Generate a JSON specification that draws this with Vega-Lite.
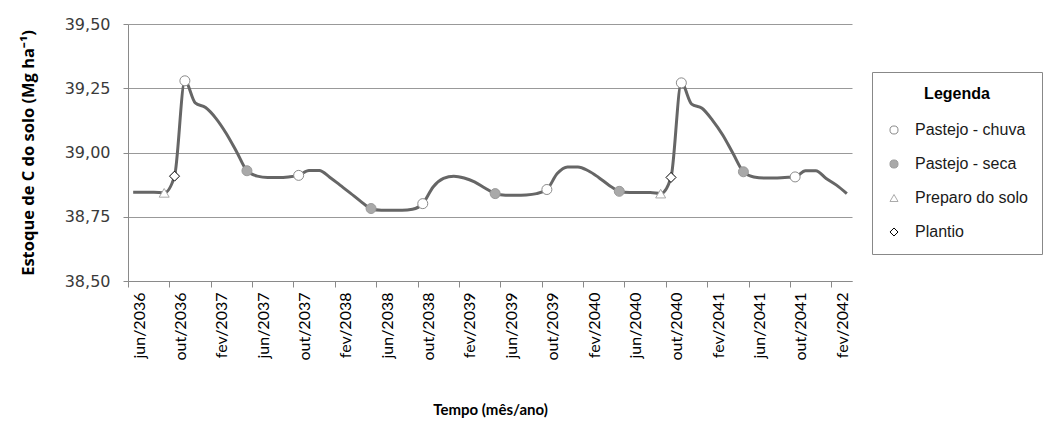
{
  "$schema": "https://vega.github.io/schema/vega-lite/v6.json",
  "width": 724,
  "height": 257,
  "autosize": {"type": "none"},
  "padding": {"left": 128, "top": 24, "right": 196, "bottom": 151},
  "background": "white",
  "config": {
    "view": {"stroke": null},
    "axis": {"domainColor": "#8a8a8a", "tickColor": "#8a8a8a", "gridColor": "#999999", "domainWidth": 1, "tickWidth": 1, "gridWidth": 1}
  },
  "data": {
    "values": [
      {"i": 0, "mes": "jun/2036", "c": 38.845, "evento": null},
      {"i": 1, "mes": "jul/2036", "c": 38.845, "evento": null},
      {"i": 2, "mes": "ago/2036", "c": 38.845, "evento": null},
      {"i": 3, "mes": "set/2036", "c": 38.843, "evento": "Preparo do solo"},
      {"i": 4, "mes": "out/2036", "c": 38.908, "evento": "Plantio"},
      {"i": 5, "mes": "nov/2036", "c": 39.279, "evento": "Pastejo - chuva"},
      {"i": 6, "mes": "dez/2036", "c": 39.193, "evento": null},
      {"i": 7, "mes": "jan/2037", "c": 39.175, "evento": null},
      {"i": 8, "mes": "fev/2037", "c": 39.133, "evento": null},
      {"i": 9, "mes": "mar/2037", "c": 39.074, "evento": null},
      {"i": 10, "mes": "abr/2037", "c": 39.003, "evento": null},
      {"i": 11, "mes": "mai/2037", "c": 38.929, "evento": "Pastejo - seca"},
      {"i": 12, "mes": "jun/2037", "c": 38.908, "evento": null},
      {"i": 13, "mes": "jul/2037", "c": 38.903, "evento": null},
      {"i": 14, "mes": "ago/2037", "c": 38.903, "evento": null},
      {"i": 15, "mes": "set/2037", "c": 38.905, "evento": null},
      {"i": 16, "mes": "out/2037", "c": 38.911, "evento": "Pastejo - chuva"},
      {"i": 17, "mes": "nov/2037", "c": 38.930, "evento": null},
      {"i": 18, "mes": "dez/2037", "c": 38.930, "evento": null},
      {"i": 19, "mes": "jan/2038", "c": 38.904, "evento": null},
      {"i": 20, "mes": "fev/2038", "c": 38.873, "evento": null},
      {"i": 21, "mes": "mar/2038", "c": 38.842, "evento": null},
      {"i": 22, "mes": "abr/2038", "c": 38.810, "evento": null},
      {"i": 23, "mes": "mai/2038", "c": 38.782, "evento": "Pastejo - seca"},
      {"i": 24, "mes": "jun/2038", "c": 38.775, "evento": null},
      {"i": 25, "mes": "jul/2038", "c": 38.775, "evento": null},
      {"i": 26, "mes": "ago/2038", "c": 38.775, "evento": null},
      {"i": 27, "mes": "set/2038", "c": 38.779, "evento": null},
      {"i": 28, "mes": "out/2038", "c": 38.801, "evento": "Pastejo - chuva"},
      {"i": 29, "mes": "nov/2038", "c": 38.866, "evento": null},
      {"i": 30, "mes": "dez/2038", "c": 38.899, "evento": null},
      {"i": 31, "mes": "jan/2039", "c": 38.908, "evento": null},
      {"i": 32, "mes": "fev/2039", "c": 38.901, "evento": null},
      {"i": 33, "mes": "mar/2039", "c": 38.886, "evento": null},
      {"i": 34, "mes": "abr/2039", "c": 38.862, "evento": null},
      {"i": 35, "mes": "mai/2039", "c": 38.840, "evento": "Pastejo - seca"},
      {"i": 36, "mes": "jun/2039", "c": 38.834, "evento": null},
      {"i": 37, "mes": "jul/2039", "c": 38.834, "evento": null},
      {"i": 38, "mes": "ago/2039", "c": 38.835, "evento": null},
      {"i": 39, "mes": "set/2039", "c": 38.840, "evento": null},
      {"i": 40, "mes": "out/2039", "c": 38.856, "evento": "Pastejo - chuva"},
      {"i": 41, "mes": "nov/2039", "c": 38.918, "evento": null},
      {"i": 42, "mes": "dez/2039", "c": 38.944, "evento": null},
      {"i": 43, "mes": "jan/2040", "c": 38.944, "evento": null},
      {"i": 44, "mes": "fev/2040", "c": 38.929, "evento": null},
      {"i": 45, "mes": "mar/2040", "c": 38.903, "evento": null},
      {"i": 46, "mes": "abr/2040", "c": 38.873, "evento": null},
      {"i": 47, "mes": "mai/2040", "c": 38.849, "evento": "Pastejo - seca"},
      {"i": 48, "mes": "jun/2040", "c": 38.844, "evento": null},
      {"i": 49, "mes": "jul/2040", "c": 38.844, "evento": null},
      {"i": 50, "mes": "ago/2040", "c": 38.844, "evento": null},
      {"i": 51, "mes": "set/2040", "c": 38.840, "evento": "Preparo do solo"},
      {"i": 52, "mes": "out/2040", "c": 38.903, "evento": "Plantio"},
      {"i": 53, "mes": "nov/2040", "c": 39.271, "evento": "Pastejo - chuva"},
      {"i": 54, "mes": "dez/2040", "c": 39.188, "evento": null},
      {"i": 55, "mes": "jan/2041", "c": 39.172, "evento": null},
      {"i": 56, "mes": "fev/2041", "c": 39.126, "evento": null},
      {"i": 57, "mes": "mar/2041", "c": 39.068, "evento": null},
      {"i": 58, "mes": "abr/2041", "c": 38.996, "evento": null},
      {"i": 59, "mes": "mai/2041", "c": 38.925, "evento": "Pastejo - seca"},
      {"i": 60, "mes": "jun/2041", "c": 38.905, "evento": null},
      {"i": 61, "mes": "jul/2041", "c": 38.901, "evento": null},
      {"i": 62, "mes": "ago/2041", "c": 38.901, "evento": null},
      {"i": 63, "mes": "set/2041", "c": 38.903, "evento": null},
      {"i": 64, "mes": "out/2041", "c": 38.905, "evento": "Pastejo - chuva"},
      {"i": 65, "mes": "nov/2041", "c": 38.929, "evento": null},
      {"i": 66, "mes": "dez/2041", "c": 38.929, "evento": null},
      {"i": 67, "mes": "jan/2042", "c": 38.899, "evento": null},
      {"i": 68, "mes": "fev/2042", "c": 38.873, "evento": null},
      {"i": 69, "mes": "mar/2042", "c": 38.840, "evento": null}
    ]
  },
  "layer": [
    {
      "mark": {"type": "line", "interpolate": "monotone", "color": "#666666", "strokeWidth": 3},
      "encoding": {
        "x": {
          "field": "i", "type": "quantitative",
          "scale": {"domain": [-0.5, 69.5], "nice": false, "zero": false},
          "axis": {
            "values": [-0.5, 3.5, 7.5, 11.5, 15.5, 19.5, 23.5, 27.5, 31.5, 35.5, 39.5, 43.5, 47.5, 51.5, 55.5, 59.5, 63.5, 67.5],
            "labelExpr": "['jun/2036','out/2036','fev/2037','jun/2037','out/2037','fev/2038','jun/2038','out/2038','fev/2039','jun/2039','out/2039','fev/2040','jun/2040','out/2040','fev/2041','jun/2041','out/2041','fev/2042'][round((datum.value + 0.5) / 4)]",
            "labelAngle": 270, "labelAlign": "right", "labelBaseline": "middle",
            "labelOffset": 11, "labelPadding": 5, "labelFlush": false, "labelOverlap": false,
            "labelFont": "Lato", "labelFontSize": 16, "labelColor": "#000000",
            "tickSize": 6, "grid": false,
            "title": "Tempo (mês/ano)", "titleFont": "Lato", "titleFontSize": 15, "titleFontWeight": "bold", "titleColor": "#000000", "titlePadding": 42
          }
        },
        "y": {
          "field": "c", "type": "quantitative",
          "scale": {"domain": [38.5, 39.5], "nice": false, "zero": false},
          "axis": {
            "values": [38.5, 38.75, 39, 39.25, 39.5],
            "labelExpr": "replace(format(datum.value, '.2f'), '.', ',')",
            "labelFont": "DejaVu Sans", "labelFontSize": 16, "labelColor": "#3a3a3a",
            "labelPadding": 13, "labelFlush": false, "tickSize": 5, "grid": true,
            "title": "Estoque de C do solo (Mg ha⁻¹)", "titleFont": "Open Sans", "titleFontSize": 16.5, "titleFontWeight": "bold", "titleColor": "#000000", "titlePadding": 28
          }
        }
      }
    },
    {
      "transform": [{"filter": "isValid(datum.evento)"}],
      "mark": {"type": "point", "filled": true, "opacity": 1, "size": 100},
      "encoding": {
        "x": {"field": "i", "type": "quantitative"},
        "y": {"field": "c", "type": "quantitative"},
        "shape": {
          "field": "evento", "type": "nominal",
          "scale": {"domain": ["Pastejo - chuva", "Pastejo - seca", "Preparo do solo", "Plantio"], "range": ["circle", "circle", "triangle-up", "diamond"]},
          "legend": {
            "title": "Legenda", "orient": "none", "legendX": 744, "legendY": 48,
            "strokeColor": "#888888", "fillColor": "white", "padding": 14,
            "titleAnchor": "middle", "titleFont": "Liberation Sans", "titleFontSize": 16, "titleFontWeight": "bold", "titleColor": "#000000", "titlePadding": 20,
            "labelFont": "Liberation Sans", "labelFontSize": 16, "labelColor": "#1a1a1a", "labelOffset": 13,
            "rowPadding": 18, "symbolSize": 65
          }
        },
        "fill": {
          "field": "evento", "type": "nominal",
          "scale": {"domain": ["Pastejo - chuva", "Pastejo - seca", "Preparo do solo", "Plantio"], "range": ["#ffffff", "#a9a9a9", "#ffffff", "#ffffff"]}
        },
        "stroke": {
          "field": "evento", "type": "nominal",
          "scale": {"domain": ["Pastejo - chuva", "Pastejo - seca", "Preparo do solo", "Plantio"], "range": ["#8a8a8a", "#9a9a9a", "#aaaaaa", "#000000"]}
        },
        "strokeWidth": {
          "field": "evento", "type": "nominal",
          "scale": {"domain": ["Pastejo - chuva", "Pastejo - seca", "Preparo do solo", "Plantio"], "range": [1, 1, 1, 2]}
        }
      }
    }
  ]
}
